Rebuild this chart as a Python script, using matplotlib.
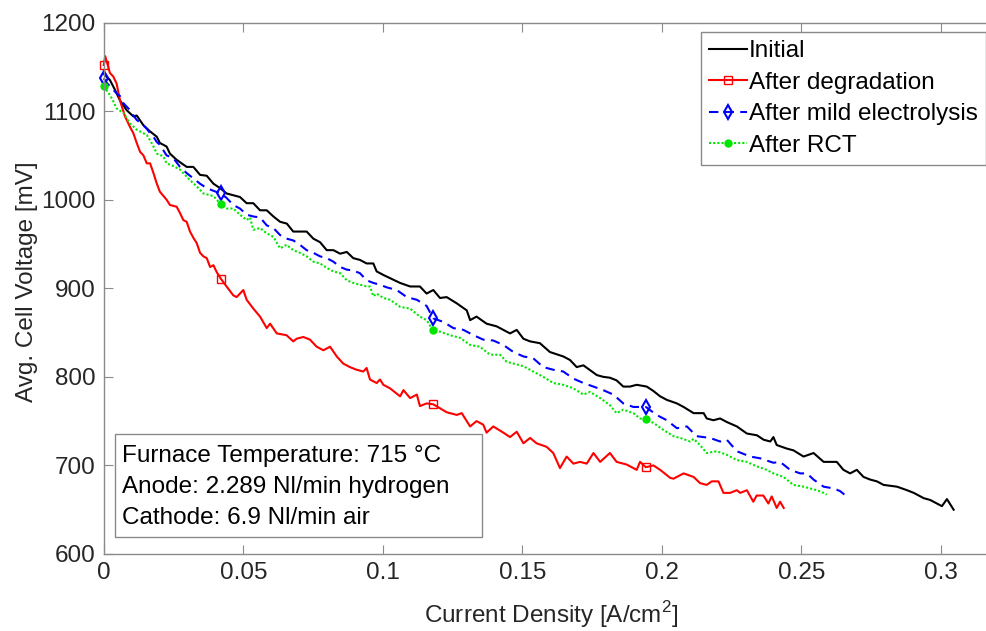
import numpy as np
import matplotlib
matplotlib.use('Agg')
import matplotlib.pyplot as plt
from matplotlib.patches import Rectangle

plt.rcParams['font.family'] = ['Liberation Sans', 'DejaVu Sans']
plt.rcParams['mathtext.fontset'] = 'custom'
plt.rcParams['mathtext.rm'] = 'Liberation Sans'
FS = 17.5

# current density [A/cm2], avg. cell voltage [mV]
initial = [
    (0.0000, 1142), (0.0022, 1135), (0.0040, 1124), (0.0058, 1112), (0.0082, 1101),
    (0.0106, 1094), (0.0118, 1095), (0.0142, 1084), (0.0166, 1077), (0.0190, 1071),
    (0.0201, 1064), (0.0225, 1060), (0.0237, 1052), (0.0261, 1045), (0.0297, 1037),
    (0.0321, 1037), (0.0345, 1028), (0.0369, 1027), (0.0393, 1018), (0.0417, 1013),
    (0.0440, 1007), (0.0464, 1005), (0.0488, 1003), (0.0512, 996), (0.0536, 996),
    (0.0560, 988), (0.0584, 988), (0.0608, 981), (0.0632, 975), (0.0656, 973),
    (0.0679, 964), (0.0727, 964), (0.0751, 956), (0.0775, 952), (0.0799, 943),
    (0.0823, 943), (0.0847, 939), (0.0871, 941), (0.0894, 934), (0.0918, 932),
    (0.0942, 928), (0.0966, 928), (0.0978, 919), (0.1002, 915), (0.1062, 906),
    (0.1098, 902), (0.1133, 902), (0.1157, 894), (0.1181, 898), (0.1205, 889),
    (0.1229, 890), (0.1265, 883), (0.1301, 875), (0.1313, 864), (0.1336, 868),
    (0.1372, 860), (0.1408, 857), (0.1456, 849), (0.1480, 853), (0.1504, 843),
    (0.1528, 840), (0.1563, 838), (0.1599, 828), (0.1647, 823), (0.1671, 819),
    (0.1695, 811), (0.1719, 813), (0.1767, 802), (0.1790, 800), (0.1814, 799),
    (0.1838, 796), (0.1862, 789), (0.1886, 789), (0.1910, 791), (0.1946, 789),
    (0.1970, 784), (0.1994, 778), (0.2018, 774), (0.2054, 770), (0.2078, 766),
    (0.2114, 759), (0.2150, 759), (0.2161, 753), (0.2185, 751), (0.2209, 753),
    (0.2233, 749), (0.2269, 744), (0.2305, 736), (0.2341, 734), (0.2365, 729),
    (0.2389, 727), (0.2400, 732), (0.2412, 723), (0.2448, 719), (0.2472, 717),
    (0.2508, 710), (0.2544, 714), (0.2580, 704), (0.2604, 704), (0.2627, 704),
    (0.2651, 695), (0.2675, 691), (0.2699, 695), (0.2723, 687), (0.2747, 684),
    (0.2771, 682), (0.2795, 678), (0.2843, 676), (0.2879, 672), (0.2903, 669),
    (0.2939, 663), (0.2962, 661), (0.2986, 657), (0.3004, 654), (0.3022, 662),
    (0.3046, 650),
]

degraded = [
    (0.0000, 1152), (0.0005, 1162), (0.0022, 1143), (0.0034, 1139), (0.0046, 1131),
    (0.0058, 1112), (0.0076, 1094), (0.0094, 1082), (0.0106, 1075), (0.0118, 1064),
    (0.0130, 1054), (0.0142, 1050), (0.0154, 1041), (0.0166, 1041), (0.0178, 1030),
    (0.0190, 1018), (0.0201, 1009), (0.0225, 1000), (0.0237, 994), (0.0261, 992),
    (0.0273, 985), (0.0285, 977), (0.0297, 975), (0.0309, 964), (0.0321, 957),
    (0.0333, 951), (0.0345, 940), (0.0357, 936), (0.0369, 934), (0.0381, 924),
    (0.0393, 926), (0.0405, 918), (0.0419, 911), (0.0440, 902), (0.0464, 892),
    (0.0476, 890), (0.0488, 894), (0.0500, 898), (0.0512, 887), (0.0536, 877),
    (0.0560, 868), (0.0584, 855), (0.0596, 860), (0.0620, 849), (0.0655, 847),
    (0.0679, 840), (0.0691, 843), (0.0715, 845), (0.0739, 842), (0.0763, 834),
    (0.0787, 830), (0.0811, 834), (0.0835, 823), (0.0858, 815), (0.0882, 811),
    (0.0906, 808), (0.0930, 806), (0.0942, 810), (0.0954, 797), (0.0978, 793),
    (0.0990, 797), (0.1002, 791), (0.1026, 787), (0.1062, 778), (0.1074, 785),
    (0.1098, 776), (0.1122, 780), (0.1133, 767), (0.1157, 770), (0.1181, 769),
    (0.1229, 760), (0.1265, 757), (0.1283, 759), (0.1313, 744), (0.1336, 750),
    (0.1360, 746), (0.1372, 737), (0.1396, 744), (0.1432, 737), (0.1456, 732),
    (0.1480, 738), (0.1504, 725), (0.1528, 731), (0.1551, 725), (0.1587, 721),
    (0.1611, 714), (0.1635, 697), (0.1659, 710), (0.1683, 702), (0.1707, 704),
    (0.1731, 702), (0.1755, 714), (0.1779, 704), (0.1814, 714), (0.1838, 704),
    (0.1874, 701), (0.1910, 695), (0.1922, 704), (0.1943, 698), (0.1970, 700),
    (0.1994, 695), (0.2030, 686), (0.2042, 685), (0.2078, 691), (0.2114, 687),
    (0.2137, 680), (0.2161, 678), (0.2179, 682), (0.2203, 682), (0.2221, 669),
    (0.2245, 669), (0.2269, 672), (0.2281, 669), (0.2305, 672), (0.2328, 659),
    (0.2340, 666), (0.2364, 666), (0.2382, 657), (0.2394, 665), (0.2412, 652),
    (0.2424, 659), (0.2437, 652),
]

electrolysis = [
    (0.0000, 1137), (0.0010, 1132), (0.0022, 1128), (0.0046, 1120), (0.0058, 1117),
    (0.0070, 1109), (0.0082, 1105), (0.0094, 1101), (0.0106, 1095), (0.0118, 1090),
    (0.0130, 1087), (0.0142, 1084), (0.0154, 1080), (0.0166, 1075), (0.0178, 1071),
    (0.0190, 1065), (0.0201, 1062), (0.0225, 1050), (0.0249, 1047), (0.0273, 1037),
    (0.0297, 1030), (0.0321, 1024), (0.0345, 1018), (0.0369, 1013), (0.0393, 1010),
    (0.0419, 1007), (0.0440, 1002), (0.0464, 994), (0.0488, 990), (0.0512, 983),
    (0.0536, 981), (0.0560, 980), (0.0584, 971), (0.0608, 968), (0.0632, 960),
    (0.0655, 956), (0.0679, 954), (0.0703, 949), (0.0727, 943), (0.0751, 940),
    (0.0775, 936), (0.0799, 934), (0.0823, 930), (0.0847, 924), (0.0871, 921),
    (0.0894, 920), (0.0918, 917), (0.0942, 909), (0.0966, 906), (0.0990, 904),
    (0.1014, 901), (0.1050, 898), (0.1086, 890), (0.1122, 887), (0.1157, 880),
    (0.1181, 866), (0.1217, 862), (0.1253, 855), (0.1289, 853), (0.1325, 847),
    (0.1360, 842), (0.1396, 841), (0.1432, 836), (0.1468, 828), (0.1504, 823),
    (0.1539, 821), (0.1575, 811), (0.1611, 808), (0.1647, 806), (0.1683, 798),
    (0.1719, 793), (0.1755, 789), (0.1790, 785), (0.1826, 780), (0.1862, 770),
    (0.1898, 766), (0.1943, 766), (0.1981, 757), (0.2018, 751), (0.2054, 742),
    (0.2090, 744), (0.2125, 733), (0.2173, 731), (0.2209, 727), (0.2233, 729),
    (0.2269, 716), (0.2317, 710), (0.2353, 708), (0.2400, 703), (0.2424, 704),
    (0.2460, 695), (0.2496, 691), (0.2520, 691), (0.2544, 684), (0.2580, 676),
    (0.2616, 674), (0.2639, 671), (0.2663, 665),
]

rct = [
    (0.0000, 1128), (0.0022, 1118), (0.0034, 1111), (0.0046, 1103), (0.0070, 1098),
    (0.0094, 1086), (0.0118, 1079), (0.0142, 1075), (0.0154, 1073), (0.0166, 1067),
    (0.0178, 1060), (0.0190, 1052), (0.0213, 1049), (0.0225, 1041), (0.0249, 1038),
    (0.0273, 1034), (0.0297, 1026), (0.0309, 1022), (0.0333, 1015), (0.0357, 1007),
    (0.0393, 1004), (0.0419, 995), (0.0440, 990), (0.0464, 990), (0.0488, 983),
    (0.0512, 977), (0.0524, 980), (0.0536, 966), (0.0560, 968), (0.0584, 962),
    (0.0608, 958), (0.0632, 945), (0.0655, 949), (0.0679, 943), (0.0703, 940),
    (0.0727, 936), (0.0751, 930), (0.0775, 928), (0.0799, 923), (0.0823, 919),
    (0.0847, 917), (0.0871, 909), (0.0894, 906), (0.0918, 904), (0.0942, 902),
    (0.0954, 902), (0.0966, 891), (0.0978, 894), (0.1002, 889), (0.1026, 887),
    (0.1062, 879), (0.1098, 877), (0.1133, 868), (0.1157, 864), (0.1179, 853),
    (0.1205, 851), (0.1241, 847), (0.1277, 844), (0.1313, 836), (0.1348, 834),
    (0.1384, 825), (0.1420, 825), (0.1444, 817), (0.1468, 815), (0.1504, 812),
    (0.1539, 806), (0.1575, 800), (0.1611, 793), (0.1647, 791), (0.1683, 787),
    (0.1719, 780), (0.1743, 783), (0.1779, 776), (0.1814, 768), (0.1838, 759),
    (0.1862, 763), (0.1898, 759), (0.1922, 753), (0.1943, 752), (0.1970, 748),
    (0.2006, 740), (0.2042, 733), (0.2066, 731), (0.2102, 727), (0.2114, 730),
    (0.2137, 723), (0.2161, 714), (0.2197, 716), (0.2233, 712), (0.2269, 706),
    (0.2305, 704), (0.2340, 699), (0.2376, 695), (0.2400, 691), (0.2436, 687),
    (0.2472, 678), (0.2508, 676), (0.2555, 672), (0.2573, 670), (0.2591, 667),
]

mark_x = [0.0, 0.0419, 0.118, 0.1943]
xtick_vals = [0, 0.05, 0.1, 0.15, 0.2, 0.25, 0.3]
xtick_labels = ['0', '0.05', '0.1', '0.15', '0.2', '0.25', '0.3']
ytick_vals = [600, 700, 800, 900, 1000, 1100, 1200]
box_lines = ['Furnace Temperature: 715 \u00b0C',
             'Anode: 2.289 Nl/min hydrogen',
             'Cathode: 6.9 Nl/min air']

W, H = 987, 631
fig = plt.figure(figsize=(W / 100, H / 100), dpi=100)
ax = fig.add_axes([103.8 / W, 1 - 554 / H, (996.6 - 103.8) / W, (554 - 22.5) / H])


def marks(x):
    return [int(np.argmin(np.abs(x - m))) for m in mark_x]


series = [
    (initial, 'Initial', dict(color='k', ls='-')),
    (degraded, 'After degradation', dict(color='#ff0000', ls='-', marker='s', mfc='none', ms=6, mew=1.0)),
    (electrolysis, 'After mild electrolysis', dict(color='#0000ff', dashes=(4.5, 3), marker='d', mfc='none', ms=7, mew=1.5)),
    (rct, 'After RCT', dict(color='#00e600', dashes=(1, 1), marker='o', ms=5, mew=1.0)),
]
for data, lab, st in series:
    x, v = np.array(data).T
    kw = dict(st)
    if 'marker' in kw:
        kw['markevery'] = marks(x)
    ax.plot(x, v, lw=1.5, label=lab, clip_on=False, **kw)

ax.set_xlim(0, 0.32)
ax.set_ylim(600, 1200)
ax.set_xticks(xtick_vals)
ax.set_xticklabels(xtick_labels)
ax.set_yticks(ytick_vals)
for s in ax.spines.values():
    s.set_color('#8a8a8a')
    s.set_linewidth(1.0)
ax.tick_params(direction='in', length=6.5, width=0.8, color='#8a8a8a',
               labelsize=FS, labelcolor='#262626', top=True, right=True, pad=6)

fig.text(551 / W, 1 - 615 / H, 'Current Density [A/cm$^2$]', ha='center', va='center',
         fontsize=FS, color='#262626')
fig.text(27 / W, 1 - 282 / H, 'Avg. Cell Voltage [mV]', ha='center', va='center',
         rotation=90, fontsize=FS, color='#262626')

leg = ax.legend(loc='upper right', bbox_to_anchor=(986 / W, 1 - 32 / H),
                bbox_transform=fig.transFigure, borderaxespad=0, fancybox=False,
                framealpha=1, edgecolor='#8a8a8a', fontsize=FS, handlelength=1.55,
                handletextpad=0.1, borderpad=0.33, labelspacing=0.39)
leg.get_frame().set_linewidth(1.0)

fig.add_artist(Rectangle((115 / W, 1 - 537 / H), (482 - 115) / W, (537 - 434) / H,
                         transform=fig.transFigure, fill=True, facecolor='white',
                         edgecolor='#8a8a8a', lw=1.0))
for i, line in enumerate(box_lines):
    fig.text(122 / W, 1 - (456 + 31 * i) / H, line, ha='left', va='center',
             fontsize=FS, color='k')

fig.savefig('out.png', dpi=100)
